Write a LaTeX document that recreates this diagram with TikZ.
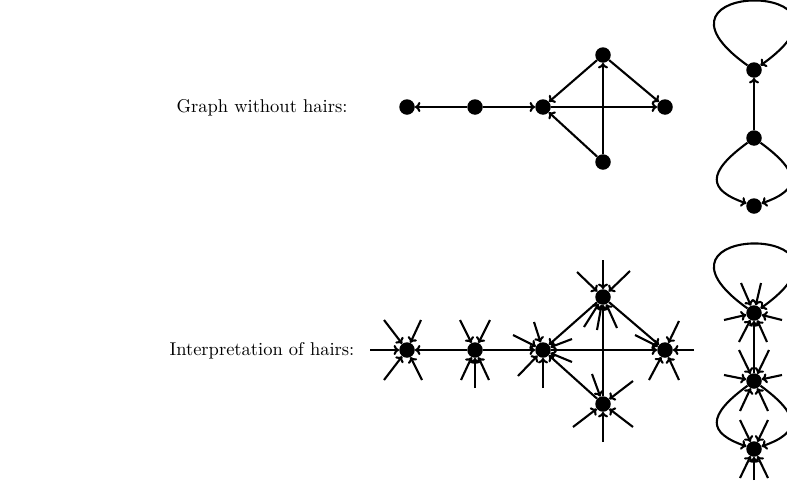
\documentclass[tikz,border=0pt]{standalone}
\usetikzlibrary{arrows.meta}
\newcommand\hairs[2]{\foreach \dx/\dy in {#2} {\path (#1) ++(\dx,\dy) coordinate (hairend); \draw[hair] (hairend) -- (#1);}}
\begin{document}
\begin{tikzpicture}[x=1pt,y=-1pt,
  dot/.style={circle,fill,inner sep=0pt,minimum size=15.5pt},
  edgearrow/.style={line width=2.1pt,-{To[length=5.5pt,width=10pt]}},
  hair/.style={edgearrow},
  lbl/.style={anchor=base,inner sep=0pt}]
\useasboundingbox (0,0) rectangle (787,485);

\node[lbl] (t1) at (262,112) {\scalebox{1.85}{Graph without hairs:}};
\node[lbl] (t2) at (262,355) {\scalebox{1.85}{Interpretation of hairs:}};

% top graph
\node[dot] (a1) at (407,107) {};
\node[dot] (a2) at (475,107) {};
\node[dot] (a3) at (543,107) {};
\node[dot] (a4) at (603,55) {};
\node[dot] (a5) at (665,107) {};
\node[dot] (a6) at (603,162) {};
\node[dot] (c1) at (754,70) {};
\node[dot] (c2) at (754,138) {};
\node[dot] (c3) at (754,206) {};

\draw[edgearrow] (a2) -- (a1);
\draw[edgearrow] (a2) -- (a3);
\draw[edgearrow] (a3) -- (a5);
\draw[edgearrow] (a4) -- (a3);
\draw[edgearrow] (a4) -- (a5);
\draw[edgearrow] (a6) -- (a3);
\draw[edgearrow] (a6) -- (a4);
\draw[edgearrow] (c2) -- (c1);
\draw[edgearrow] (c1) .. controls +(-128,-91) and +(128,-91) .. (c1);
\draw[edgearrow] (c2) .. controls +(-48,35) and +(-46,-16) .. (c3);
\draw[edgearrow] (c2) .. controls +(48,35) and +(46,-16) .. (c3);

% bottom graph
\node[dot] (b1) at (407,350) {};
\node[dot] (b2) at (475,350) {};
\node[dot] (b3) at (543,350) {};
\node[dot] (b4) at (603,297) {};
\node[dot] (b5) at (665,350) {};
\node[dot] (b6) at (603,404) {};
\node[dot] (d1) at (754,313) {};
\node[dot] (d2) at (754,381) {};
\node[dot] (d3) at (754,449) {};

\draw[edgearrow] (b2) -- (b1);
\draw[edgearrow] (b2) -- (b3);
\draw[edgearrow] (b3) -- (b5);
\draw[edgearrow] (b4) -- (b3);
\draw[edgearrow] (b4) -- (b5);
\draw[edgearrow] (b6) -- (b3);
\draw[edgearrow] (b6) -- (b4);
\draw[edgearrow] (d2) -- (d1);
\draw[edgearrow] (d1) .. controls +(-128,-91) and +(128,-91) .. (d1);
\draw[edgearrow] (d2) .. controls +(-48,35) and +(-46,-16) .. (d3);
\draw[edgearrow] (d2) .. controls +(48,35) and +(46,-16) .. (d3);

\hairs{b1}{-37/0, -23/-30, 14/-30, -23/30, 15/30}
\hairs{b2}{-15/-30, 15/-30, -14/30, 14/30, 0/38}
\hairs{b3}{-30/-15, -9/-28, 29/-11, 29/12, -25/26, 0/38}
\hairs{b4}{0/-37, -26/-25, 27/-26, -19/30, -6/33, 14/31}
\hairs{b5}{-30/-15, 14/-29, 29/0, -16/30, 14/30}
\hairs{b6}{-11/-30, 30/-23, -30/23, 30/23, 0/38}
\hairs{d1}{-13/-30, 7/-30, -30/7, 28/7, -15/29, 13/29}
\hairs{d2}{-15/-31, 15/-31, -30/-6, 28/-6, -14/30, 14/30}
\hairs{d3}{-14/-29, 14/-29, -14/29, 0/31, 14/29}
\end{tikzpicture}
\end{document}
